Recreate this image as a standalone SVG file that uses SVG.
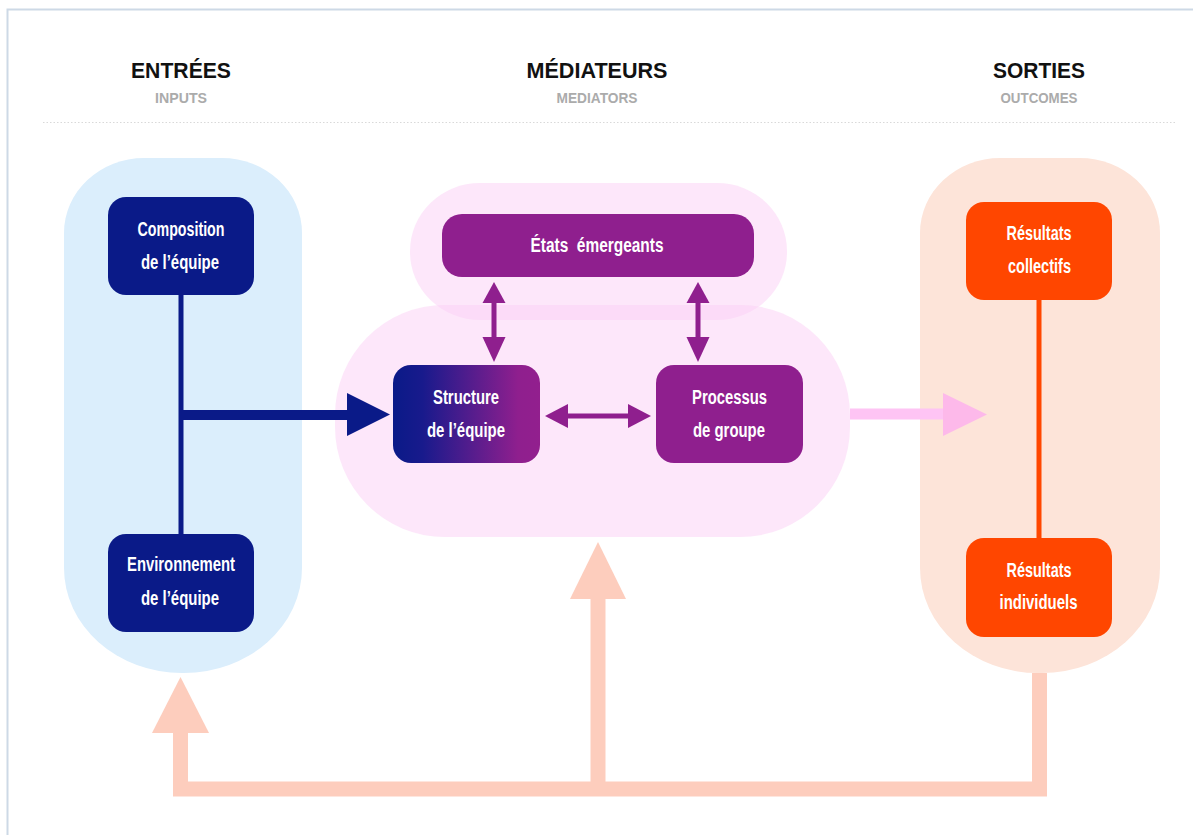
<svg xmlns="http://www.w3.org/2000/svg" width="1193" height="835" viewBox="0 0 1193 835">
<defs>
<style>
.hdr{font-family:"Liberation Sans",Arial,sans-serif;font-weight:bold;font-size:22px;fill:#111;text-anchor:middle}
.sub{font-family:"Liberation Sans",Arial,sans-serif;font-weight:bold;font-size:14px;fill:#ababab;text-anchor:middle}
.lbl{font-family:"Liberation Sans Narrow","Liberation Sans",Arial,sans-serif;font-weight:bold;font-size:20px;fill:#fff;text-anchor:middle}
.navy{fill:#0a1a88}
.purple{fill:#8f1f8e}
.orange{fill:#ff4600}
.fb{fill:none;stroke:#fdcdbd;stroke-width:15}
.fbh{fill:#fdcdbd}
</style>
<linearGradient id="grad" x1="0" y1="0" x2="1" y2="0">
<stop offset="0" stop-color="#0a1a88"/>
<stop offset="0.2" stop-color="#181a8c"/>
<stop offset="0.85" stop-color="#8f1f8e"/>
<stop offset="1" stop-color="#921f8e"/>
</linearGradient>
</defs>
<rect width="1193" height="835" fill="#fff"/>
<path d="M7.5 840 V9.5 H1200" fill="none" stroke="#cdd9e6" stroke-width="2"/>

<g id="headers">
<text class="hdr" x="181" y="78" textLength="100" lengthAdjust="spacingAndGlyphs">ENTRÉES</text>
<text class="sub" x="181" y="103" textLength="52" lengthAdjust="spacingAndGlyphs">INPUTS</text>
<text class="hdr" x="597" y="78" textLength="141" lengthAdjust="spacingAndGlyphs">MÉDIATEURS</text>
<text class="sub" x="597" y="103" textLength="81" lengthAdjust="spacingAndGlyphs">MEDIATORS</text>
<text class="hdr" x="1039" y="78" textLength="92" lengthAdjust="spacingAndGlyphs">SORTIES</text>
<text class="sub" x="1039" y="103" textLength="77" lengthAdjust="spacingAndGlyphs">OUTCOMES</text>
<line x1="43" y1="122.5" x2="1175" y2="122.5" stroke="#d9d9d9" stroke-width="1.2" stroke-dasharray="1.5 2"/>
</g>

<g id="backgrounds">
<path id="bg-inputs" d="M144 158 H222 A80 75 0 0 1 302 233 V568 A118 105 0 0 1 184 673 H182 A118 105 0 0 1 64 568 V233 A80 75 0 0 1 144 158 Z" fill="#dbeefc"/>
<path id="bg-outputs" d="M1000 158 H1080 A80 75 0 0 1 1160 233 V568 A118 105 0 0 1 1042 673 H1038 A118 105 0 0 1 920 568 V233 A80 75 0 0 1 1000 158 Z" fill="#fde4d9"/>
<rect id="bg-states" x="410" y="183" width="377" height="137" rx="70" ry="68" fill="#fbd0f6" fill-opacity="0.5"/>
<rect id="bg-mediators" x="335" y="305" width="515" height="232" rx="110" ry="110" fill="#fbd0f6" fill-opacity="0.5"/>
</g>

<g id="connectors">
<rect x="178.5" y="295" width="5" height="239" class="navy"/>
<rect x="181" y="410" width="168" height="10" class="navy"/>
<polygon points="347,393 390,414.5 347,436" class="navy"/>
<rect x="1036.5" y="300" width="5" height="238" class="orange"/>
<rect x="850" y="408.5" width="95" height="11" fill="#fec4f4"/>
<polygon points="943,393 987,414.5 943,436" fill="#fdb9ea"/>
<rect x="491.5" y="302" width="5" height="36" class="purple"/>
<polygon points="494,282 505.5,303 482.5,303" class="purple"/>
<polygon points="494,362 505.5,337 482.5,337" class="purple"/>
<rect x="695.5" y="302" width="5" height="36" class="purple"/>
<polygon points="698,282 709.5,303 686.5,303" class="purple"/>
<polygon points="698,362 709.5,337 686.5,337" class="purple"/>
<rect x="566" y="413.5" width="64" height="5" class="purple"/>
<polygon points="545,416 568,404 568,428" class="purple"/>
<polygon points="651,416 628,404 628,428" class="purple"/>
<polyline class="fb" points="1039.5,673 1039.5,789 180.5,789 180.5,732"/>
<line class="fb" x1="598" y1="789" x2="598" y2="598"/>
<polygon class="fbh" points="180.5,677 209,733 152,733"/>
<polygon class="fbh" points="598,542 626,599 570,599"/>
</g>

<g id="node-composition">
<rect x="108" y="197" width="146" height="98" rx="18" class="navy"/>
<text class="lbl" x="181" y="236" textLength="87" lengthAdjust="spacingAndGlyphs">Composition</text>
<text class="lbl" x="180" y="269" textLength="78" lengthAdjust="spacingAndGlyphs">de l’équipe</text>
</g>
<g id="node-environnement">
<rect x="108" y="534" width="146" height="98" rx="18" class="navy"/>
<text class="lbl" x="181" y="571" textLength="108" lengthAdjust="spacingAndGlyphs">Environnement</text>
<text class="lbl" x="180" y="605" textLength="78" lengthAdjust="spacingAndGlyphs">de l’équipe</text>
</g>
<g id="node-etats">
<rect x="442" y="214" width="312" height="63" rx="20" class="purple"/>
<text class="lbl" x="597" y="252" textLength="133" lengthAdjust="spacingAndGlyphs" xml:space="preserve">États  émergeants</text>
</g>
<g id="node-structure">
<rect x="393" y="365" width="147" height="98" rx="18" fill="url(#grad)"/>
<text class="lbl" x="466" y="404" textLength="66" lengthAdjust="spacingAndGlyphs">Structure</text>
<text class="lbl" x="466" y="437" textLength="78" lengthAdjust="spacingAndGlyphs">de l’équipe</text>
</g>
<g id="node-processus">
<rect x="656" y="365" width="147" height="98" rx="18" class="purple"/>
<text class="lbl" x="729.5" y="404" textLength="75" lengthAdjust="spacingAndGlyphs">Processus</text>
<text class="lbl" x="729" y="437" textLength="72" lengthAdjust="spacingAndGlyphs">de groupe</text>
</g>
<g id="node-collectifs">
<rect x="966" y="202" width="146" height="98" rx="18" class="orange"/>
<text class="lbl" x="1039" y="240" textLength="65" lengthAdjust="spacingAndGlyphs">Résultats</text>
<text class="lbl" x="1039.5" y="273" textLength="63" lengthAdjust="spacingAndGlyphs">collectifs</text>
</g>
<g id="node-individuels">
<rect x="966" y="538" width="146" height="99" rx="18" class="orange"/>
<text class="lbl" x="1039" y="577" textLength="65" lengthAdjust="spacingAndGlyphs">Résultats</text>
<text class="lbl" x="1038.5" y="609" textLength="78" lengthAdjust="spacingAndGlyphs">individuels</text>
</g>
</svg>
